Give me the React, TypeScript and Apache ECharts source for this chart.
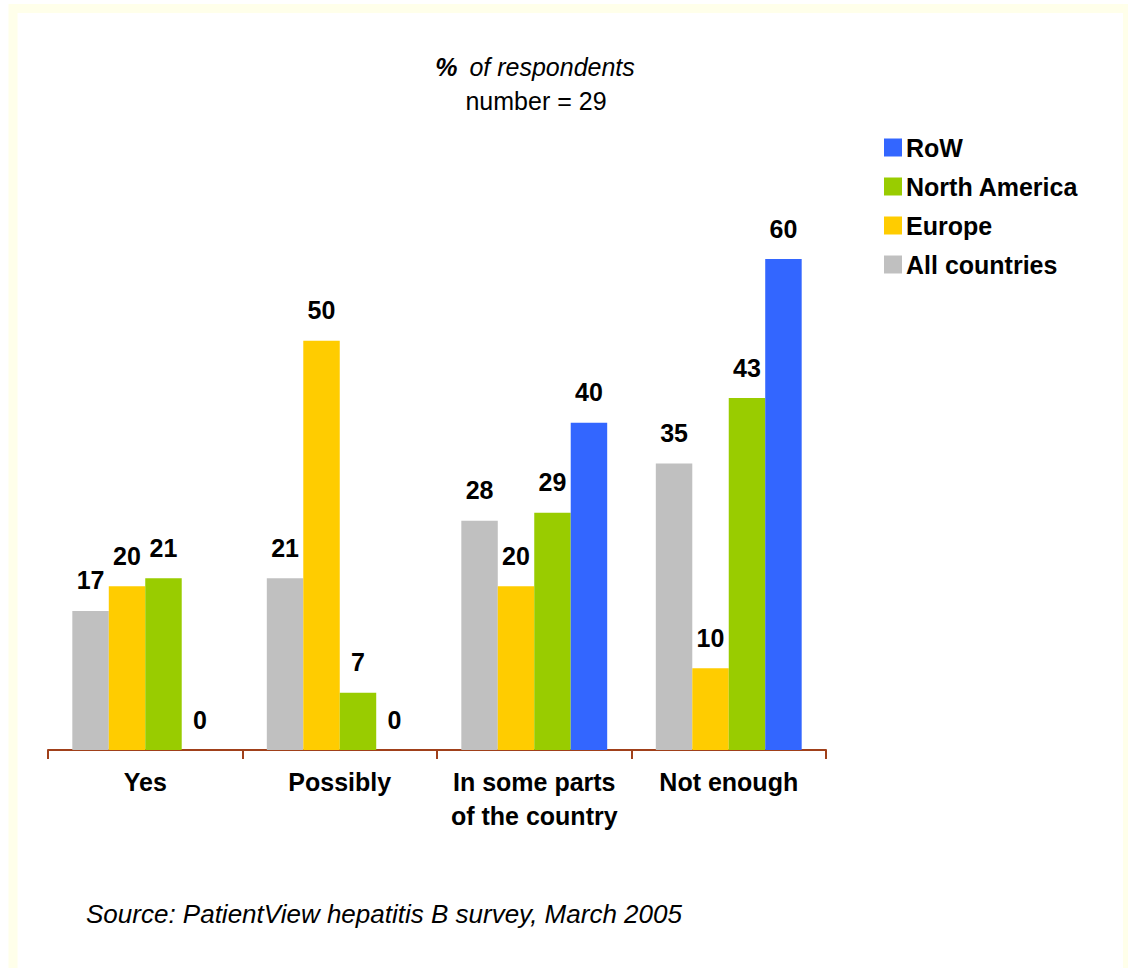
import React, { useEffect, useRef } from "react";
import * as echarts from "echarts";

const categories = ["Yes", "Possibly", "In some parts\nof the country", "Not enough"];
const seriesNames = ["All countries", "Europe", "North America", "RoW"];
const allCountries = [17, 21, 28, 35];
const europe = [20, 50, 20, 10];
const northAmerica = [21, 7, 29, 43];
const row = [0, 0, 40, 60];
const colors = ["#C0C0C0", "#FFCC00", "#99CC00", "#3366FF"];
const legendOrder = ["RoW", "North America", "Europe", "All countries"];

const FONT = "Arial, 'Liberation Sans', sans-serif";

export default function App() {
  const ref = useRef<HTMLDivElement>(null);
  useEffect(() => {
    if (!ref.current) return;
    const chart = echarts.init(ref.current, undefined, { renderer: "svg" });
    const values = [allCountries, europe, northAmerica, row];
    chart.setOption({
      animation: false,
      backgroundColor: "#FFFFFF",
      textStyle: { fontFamily: FONT },
      grid: { left: 48, right: 302, top: 259, bottom: 218, containLabel: false },
      legend: {
        data: legendOrder,
        orient: "vertical",
        left: 884,
        top: 135,
        padding: 0,
        itemWidth: 18,
        itemHeight: 18,
        itemGap: 14,
        icon: "rect",
        textStyle: {
          fontSize: 25,
          fontWeight: "bold",
          color: "#000",
          fontFamily: FONT,
          lineHeight: 25,
          padding: [0, 0, 0, -1],
        },
      },
      xAxis: {
        type: "category",
        data: categories,
        axisLine: { show: true, lineStyle: { color: "#A0401A", width: 2 } },
        axisTick: { show: true, length: 9, lineStyle: { color: "#A0401A", width: 2 } },
        axisLabel: {
          interval: 0,
          margin: 15,
          fontSize: 25,
          fontWeight: "bold",
          color: "#000",
          lineHeight: 34,
          fontFamily: FONT,
        },
      },
      yAxis: {
        type: "value",
        min: 0,
        max: 60,
        show: false,
        splitLine: { show: false },
      },
      series: seriesNames.map((name, i) => ({
        name,
        type: "bar",
        data: values[i],
        barGap: "0%",
        barCategoryGap: "25%",
        itemStyle: { color: colors[i] },
        label: {
          show: true,
          position: "top",
          distance: 18,
          fontSize: 25,
          fontWeight: "bold",
          color: "#000",
          fontFamily: FONT,
        },
      })),
      graphic: [
        {
          type: "rect",
          silent: true,
          shape: { x: 13, y: 8.5, width: 1114.5, height: 1000 },
          style: { fill: "none", stroke: "#FFFFEA", lineWidth: 9 },
        },
        {
          type: "text",
          x: 535,
          y: 67,
          style: {
            text: "{b|%}{i|of respondents}",
            align: "center",
            verticalAlign: "middle",
            rich: {
              b: {
                fontSize: 25,
                fontWeight: "bold",
                fontStyle: "italic",
                fill: "#000",
                fontFamily: FONT,
                padding: [0, 12, 0, 0],
              },
              i: { fontSize: 25, fontStyle: "italic", fill: "#000", fontFamily: FONT },
            },
          },
        },
        {
          type: "text",
          x: 536,
          y: 101,
          style: {
            text: "number = 29",
            align: "center",
            verticalAlign: "middle",
            fontSize: 25,
            fill: "#000",
            fontFamily: FONT,
          },
        },
        {
          type: "text",
          x: 86,
          y: 914,
          style: {
            text: "Source: PatientView hepatitis B survey, March 2005",
            align: "left",
            verticalAlign: "middle",
            fontSize: 26,
            fontStyle: "italic",
            fill: "#000",
            fontFamily: FONT,
          },
        },
      ],
    });
    return () => chart.dispose();
  }, []);
  return (
    <div
      ref={ref}
      style={{ position: "fixed", left: 0, top: 0, width: 1128, height: 968, background: "#fff" }}
    />
  );
}
